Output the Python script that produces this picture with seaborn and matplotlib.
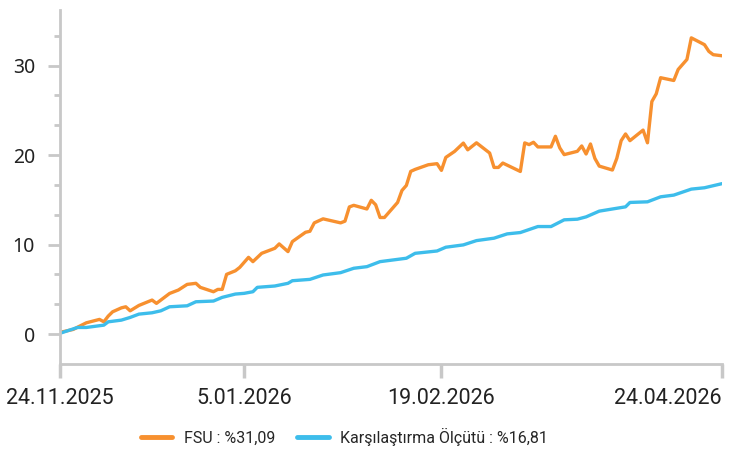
import pandas as pd
import numpy as np
import matplotlib.pyplot as plt
import matplotlib.dates as mdates
from matplotlib.ticker import MultipleLocator
import seaborn as sns

start = pd.Timestamp("2025-11-24")

# calendar day offsets from 24.11.2025 and cumulative return (%)
fsu_days = [0, 3, 6, 9, 10, 11, 12, 14, 15, 16, 18, 21, 22, 25, 27, 29, 31, 32, 35, 36,
            37, 38, 40, 41, 43, 44, 46, 49, 50, 52, 53, 56, 57, 58, 60, 64, 65, 66, 67, 70,
            71, 72, 73, 74, 77, 78, 79, 80, 81, 84, 86, 87, 88, 90, 92, 93, 95, 98, 99, 100,
            101, 105, 106, 107, 108, 109, 112, 113, 114, 115, 118, 119, 120, 121, 122, 123, 126, 127, 128, 129,
            130, 133, 134, 135, 136, 137, 140, 141, 143, 144, 147, 148, 149, 151]
fsu_vals = [0.2, 0.53, 1.27, 1.65, 1.38, 2.02, 2.50, 2.94, 3.06, 2.61, 3.21, 3.81, 3.44, 4.55, 4.93, 5.56, 5.68, 5.23, 4.74, 5.00,
            5.00, 6.68, 7.08, 7.46, 8.58, 8.10, 9.03, 9.59, 10.08, 9.22, 10.34, 11.38, 11.49, 12.43, 12.88, 12.43, 12.62, 14.21, 14.39, 13.98,
            14.95, 14.45, 13.03, 13.03, 14.71, 16.05, 16.61, 18.18, 18.40, 18.92, 19.04, 18.29, 19.74, 20.41, 21.34, 20.59, 21.37, 20.23, 18.62, 18.62,
            19.11, 18.17, 21.36, 21.17, 21.43, 20.91, 20.91, 22.10, 20.80, 20.05, 20.42, 21.02, 20.12, 21.24, 19.63, 18.77, 18.33, 19.63, 21.61, 22.36,
            21.61, 22.79, 21.37, 25.98, 26.84, 28.64, 28.33, 29.56, 30.68, 33.09, 32.33, 31.58, 31.21, 31.09]

bm_days = [0, 4, 6, 10, 11, 14, 16, 18, 21, 23, 25, 29, 31, 35, 37, 40, 42, 44, 45, 49,
           52, 53, 57, 60, 64, 67, 70, 73, 79, 81, 86, 88, 92, 95, 99, 102, 105, 109, 112, 115,
           118, 120, 123, 129, 130, 134, 137, 140, 144, 147, 151]
bm_vals = [0.1, 0.75, 0.75, 1.01, 1.38, 1.57, 1.87, 2.24, 2.39, 2.61, 3.06, 3.17, 3.62, 3.70, 4.11, 4.48, 4.56, 4.74, 5.23, 5.38,
           5.68, 5.97, 6.12, 6.61, 6.87, 7.36, 7.54, 8.10, 8.48, 9.03, 9.29, 9.71, 9.97, 10.45, 10.72, 11.20, 11.35, 12.02, 12.02, 12.77,
           12.84, 13.10, 13.74, 14.22, 14.71, 14.78, 15.34, 15.53, 16.20, 16.35, 16.81]

series_names = ["FSU : %31,09", "Karşılaştırma Ölçütü : %16,81"]
colors = ["#F7902F", "#3DBDEB"]
tick_dates = ["2025-11-24", "2026-01-05", "2026-02-19", "2026-04-24"]
tick_labels = ["24.11.2025", "5.01.2026", "19.02.2026", "24.04.2026"]

df = pd.concat([
    pd.DataFrame({"date": start + pd.to_timedelta(fsu_days, unit="D"), "value": fsu_vals, "series": series_names[0]}),
    pd.DataFrame({"date": start + pd.to_timedelta(bm_days, unit="D"), "value": bm_vals, "series": series_names[1]}),
])

sns.set_style("white")
fig = plt.figure(figsize=(7.39, 4.55), dpi=100)
ax = fig.add_axes([0.0812, 0.2, 0.8958, 0.778])

sns.lineplot(data=df, x="date", y="value", hue="series", palette=colors,
             linewidth=2.4, ax=ax, legend=False)

gray = "#C8C8C8"
for s in ["top", "right"]:
    ax.spines[s].set_visible(False)
for s in ["left", "bottom"]:
    ax.spines[s].set_color(gray)
    ax.spines[s].set_linewidth(2)

ax.set_xlim(start, pd.Timestamp("2026-04-24"))
ax.set_ylim(-3.33, 36.2)
ax.set_xlabel("")
ax.set_ylabel("")

ax.set_yticks([0, 10, 20, 30])
ax.yaxis.set_minor_locator(MultipleLocator(10 / 3))
ax.tick_params(axis="y", which="major", length=9, width=2, color=gray, pad=9,
               labelsize=14, labelcolor="#222222", left=True)
ax.tick_params(axis="y", which="minor", length=4.5, width=2, color=gray, left=True)
for lab in ax.get_yticklabels():
    lab.set_family("Noto Sans")

ax.set_xticks([pd.Timestamp(d) for d in tick_dates])
ax.set_xticklabels(tick_labels, family="Roboto", fontsize=15.5, color="#222222")
ax.tick_params(axis="x", which="major", length=10, width=2.5, color=gray, pad=7, bottom=True)
ax.get_xticklabels()[-1].set_horizontalalignment("right")
ax.xaxis.set_minor_locator(plt.NullLocator())

handles = [plt.Line2D([], [], color=c, linewidth=3.5) for c in colors]
fig.legend(handles, series_names, loc="center", bbox_to_anchor=(0.466, 0.04), ncol=2,
           frameon=False, prop={"family": "Roboto", "size": 11.5}, handlelength=2.0,
           columnspacing=1.4, handletextpad=0.7)

fig.savefig("out.png", dpi=100)
